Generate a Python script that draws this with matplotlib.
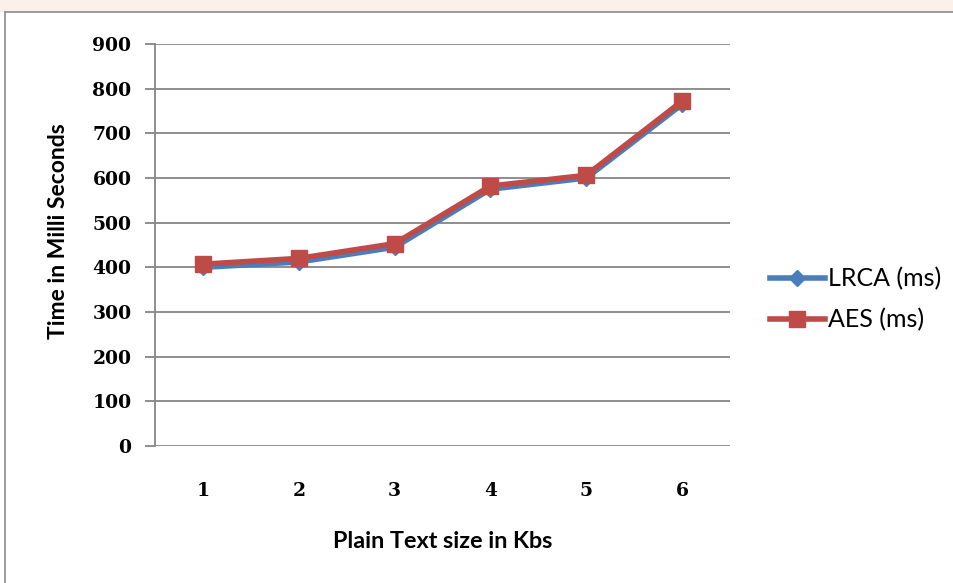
import matplotlib
matplotlib.use("Agg")
import matplotlib.pyplot as plt
from matplotlib.lines import Line2D
from matplotlib.patches import Rectangle

# data
sizes = [1, 2, 3, 4, 5, 6]
lrca_ms = [400, 412, 445, 575, 600, 765]
aes_ms = [407, 420, 453, 582, 606, 772]

plt.rcParams['font.family'] = ['Lato', 'DejaVu Sans']

W, H = 954, 583
fig = plt.figure(figsize=(W / 100, H / 100), dpi=100)

# faint strip above the chart frame (page background)
fig.patches.append(Rectangle((0, 1 - 12 / H), 1, 12 / H, transform=fig.transFigure,
                             facecolor='#fbf1ea', edgecolor='none', zorder=0))
# chart frame
fig.add_artist(Line2D([5 / W, 1.0], [1 - 12 / H, 1 - 12 / H], transform=fig.transFigure,
                      color='#8c8c8c', lw=1.2))
fig.add_artist(Line2D([5 / W, 5 / W], [0.0, 1 - 12 / H], transform=fig.transFigure,
                      color='#8c8c8c', lw=1.2))

# plot area: x 155..730 px, y 44..446 px
ax = fig.add_axes([155 / W, 1 - 446 / H, 575 / W, 402 / H])

ax.plot(sizes, lrca_ms, color='#4a7ebb', lw=4, marker='D', markersize=8,
        label='LRCA (ms)', zorder=3)
ax.plot(sizes, aes_ms, color='#be4b48', lw=4, marker='s', markersize=11,
        label='AES (ms)', zorder=4)

ax.set_xlim(0.5, 6.5)
ax.set_ylim(0, 900)
ax.set_yticks(range(0, 901, 100))
ax.set_xticks(sizes)
ax.grid(axis='y', color='#868686', lw=1.3)
ax.set_axisbelow(True)

for s in ['top', 'right', 'bottom']:
    ax.spines[s].set_visible(False)
ax.spines['left'].set_color('#868686')
ax.spines['left'].set_linewidth(1.3)

tick_font = dict(family='DejaVu Serif', weight='bold', size=13.5)
ax.tick_params(axis='y', length=7, width=1.3, color='#868686', pad=10)
ax.tick_params(axis='x', length=0, pad=26)
for lbl in ax.get_xticklabels() + ax.get_yticklabels():
    lbl.set_fontproperties(tick_font)

fig.text(59 / W, 1 - 231 / H, 'Time in Milli Seconds', rotation=90,
         ha='center', va='center', fontsize=16.5, fontweight='bold')
fig.text(443 / W, 1 - 541 / H, 'Plain Text size in Kbs',
         ha='center', va='center', fontsize=16.8, fontweight='bold')

ax.legend(loc='center left', bbox_to_anchor=((770 - 155) / 575, (446 - 299.5) / 402),
          frameon=False, fontsize=18, handlelength=2.2, handletextpad=0.12,
          labelspacing=0.7, borderpad=0, borderaxespad=0)

fig.savefig('out.png', dpi=100)
